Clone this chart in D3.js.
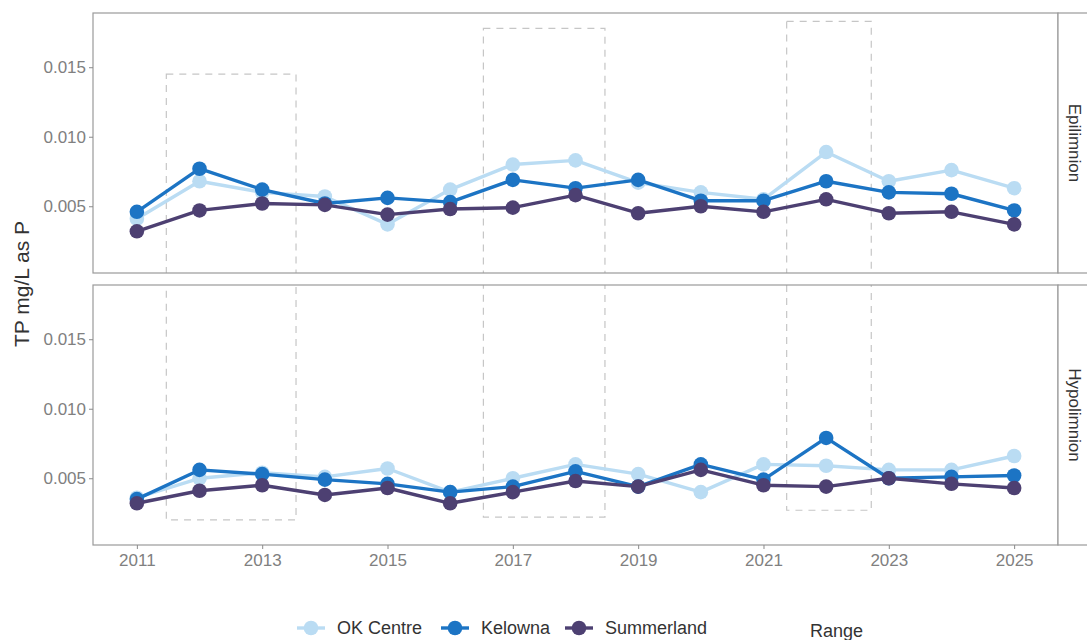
<!DOCTYPE html>
<html lang="en">
<head>
<meta charset="UTF-8">
<title>TP mg/L as P</title>
<script src="https://d3js.org/d3.v7.min.js"></script>
<style>
    body { margin: 0; background: #fff; }
    text { font-family: "Liberation Sans", Arial, sans-serif; }
</style>
</head>
<body>
<div id="chart"></div>
<script>
    // data
    const years = [2011, 2012, 2013, 2014, 2015, 2016, 2017, 2018, 2019, 2020, 2021, 2022, 2023, 2024, 2025];
    const sites = ["OK Centre", "Kelowna", "Summerland"];
    const layers = ["Epilimnion", "Hypolimnion"];

    const okCentreEpi    = [0.0041, 0.0068, 0.0060, 0.0057, 0.0037, 0.0062, 0.0080, 0.0083, 0.0067, 0.0060, 0.0055, 0.0089, 0.0068, 0.0076, 0.0063];
    const kelownaEpi     = [0.0046, 0.0077, 0.0062, 0.0052, 0.0056, 0.0053, 0.0069, 0.0063, 0.0069, 0.0054, 0.0054, 0.0068, 0.0060, 0.0059, 0.0047];
    const summerlandEpi  = [0.0032, 0.0047, 0.0052, 0.0051, 0.0044, 0.0048, 0.0049, 0.0058, 0.0045, 0.0050, 0.0046, 0.0055, 0.0045, 0.0046, 0.0037];

    const okCentreHypo   = [0.0036, 0.0050, 0.0054, 0.0051, 0.0057, 0.0040, 0.0050, 0.0060, 0.0053, 0.0040, 0.0060, 0.0059, 0.0056, 0.0056, 0.0066];
    const kelownaHypo    = [0.0035, 0.0056, 0.0053, 0.0049, 0.0046, 0.0040, 0.0044, 0.0055, 0.0044, 0.0060, 0.0049, 0.0079, 0.0050, 0.0051, 0.0052];
    const summerlandHypo = [0.0032, 0.0041, 0.0045, 0.0038, 0.0043, 0.0032, 0.0040, 0.0048, 0.0044, 0.0056, 0.0045, 0.0044, 0.0050, 0.0046, 0.0043];

    // dashed "Range" boxes
    const rangeStart      = [2011.47, 2016.53, 2021.37];
    const rangeEnd        = [2013.54, 2018.47, 2022.72];
    const rangeTopEpi     = [0.0145, 0.0178, 0.0183];
    const rangeBottomHypo = [0.0020, 0.0022, 0.0027];

    const xTicks = [2011, 2013, 2015, 2017, 2019, 2021, 2023, 2025];
    const yTicks = [0.005, 0.010, 0.015];

    const colors = { "OK Centre": "#badcf3", "Kelowna": "#1c74c4", "Summerland": "#4d4072" };

    const panelData = {
        "Epilimnion":  { "OK Centre": okCentreEpi,  "Kelowna": kelownaEpi,  "Summerland": summerlandEpi },
        "Hypolimnion": { "OK Centre": okCentreHypo, "Kelowna": kelownaHypo, "Summerland": summerlandHypo }
    };

    const width = 1087, height = 640;
    const plotLeft = 93, plotRight = 1058, panelH = 260, gap = 12, plotTop = 13;
    const stripW = 34;

    const svg = d3.select("#chart").append("svg")
        .attr("width", width)
        .attr("height", height);

    const x = d3.scaleLinear().domain([2010.3, 2025.7]).range([plotLeft, plotRight]);
    const y = d3.scaleLinear().domain([0.0002, 0.0189]).range([panelH, 0]);

    const line = d3.line()
        .x((d, i) => x(years[i]))
        .y(d => y(d));

    layers.forEach((layer, li) => {
        const py = plotTop + li * (panelH + gap);
        const g = svg.append("g").attr("transform", `translate(0,${py})`);

        g.append("clipPath").attr("id", "clip" + li)
            .append("rect")
            .attr("x", plotLeft).attr("y", 0)
            .attr("width", plotRight - plotLeft).attr("height", panelH);

        // range boxes, clipped to the panel
        const rg = g.append("g").attr("clip-path", `url(#clip${li})`);
        rangeStart.forEach((s, i) => {
            const hi = li === 0 ? rangeTopEpi[i] : 0.03;
            const lo = li === 0 ? -0.01 : rangeBottomHypo[i];
            rg.append("rect")
                .attr("x", x(s))
                .attr("y", y(hi))
                .attr("width", x(rangeEnd[i]) - x(s))
                .attr("height", y(lo) - y(hi))
                .attr("fill", "none")
                .attr("stroke", "#c6c6c6")
                .attr("stroke-width", 1.2)
                .attr("stroke-dasharray", "7,6");
        });

        // series
        sites.forEach(site => {
            const vals = panelData[layer][site];
            g.append("path")
                .datum(vals)
                .attr("d", line)
                .attr("fill", "none")
                .attr("stroke", colors[site])
                .attr("stroke-width", 3.4)
                .attr("stroke-linejoin", "round");
            g.selectAll(null)
                .data(vals)
                .enter().append("circle")
                .attr("cx", (d, i) => x(years[i]))
                .attr("cy", d => y(d))
                .attr("r", 7.3)
                .attr("fill", colors[site]);
        });

        // panel border
        g.append("rect")
            .attr("x", plotLeft).attr("y", 0)
            .attr("width", plotRight - plotLeft).attr("height", panelH)
            .attr("fill", "none")
            .attr("stroke", "#9a9a9a")
            .attr("stroke-width", 1.2);

        // strip on the right
        g.append("rect")
            .attr("x", plotRight).attr("y", 0)
            .attr("width", stripW).attr("height", panelH)
            .attr("fill", "#fff")
            .attr("stroke", "#9a9a9a")
            .attr("stroke-width", 1.2);
        g.append("text")
            .attr("transform", `translate(${plotRight + 17},${panelH / 2}) rotate(90)`)
            .attr("text-anchor", "middle")
            .attr("dy", "0.35em")
            .attr("font-size", 17)
            .attr("fill", "#333")
            .text(layer);

        // y axis
        const yAxis = g.append("g")
            .attr("transform", `translate(${plotLeft},0)`)
            .call(d3.axisLeft(y).tickValues(yTicks).tickFormat(d3.format(".3f")).tickSize(4).tickPadding(3));
        yAxis.select(".domain").remove();
        yAxis.selectAll("line").attr("stroke", "#8a8a8a");
        yAxis.selectAll("text").attr("font-size", 17).attr("fill", "#808080")
            .style("font-family", "'Liberation Sans', Arial, sans-serif");

        if (li === 1) {
            const xAxis = g.append("g")
                .attr("transform", `translate(0,${panelH})`)
                .call(d3.axisBottom(x).tickValues(xTicks).tickFormat(d3.format("d")).tickSize(4).tickPadding(5));
            xAxis.select(".domain").remove();
            xAxis.selectAll("line").attr("stroke", "#8a8a8a");
            xAxis.selectAll("text").attr("font-size", 17).attr("fill", "#808080")
                .style("font-family", "'Liberation Sans', Arial, sans-serif");
        }
    });

    // y axis title
    svg.append("text")
        .attr("transform", `translate(29,${plotTop + panelH + gap / 2 + 5}) rotate(-90)`)
        .attr("text-anchor", "middle")
        .attr("font-size", 21)
        .attr("fill", "#333")
        .text("TP  mg/L as P");

    // legend
    const legendY = 628;
    const legendItems = [
        { site: "OK Centre", x: 297 },
        { site: "Kelowna", x: 441 },
        { site: "Summerland", x: 565 }
    ];
    const lg = svg.append("g");
    legendItems.forEach(it => {
        lg.append("line")
            .attr("x1", it.x).attr("x2", it.x + 28)
            .attr("y1", legendY).attr("y2", legendY)
            .attr("stroke", colors[it.site]).attr("stroke-width", 3.4);
        lg.append("circle")
            .attr("cx", it.x + 14).attr("cy", legendY).attr("r", 7.3)
            .attr("fill", colors[it.site]);
        lg.append("text")
            .attr("x", it.x + 40).attr("y", legendY)
            .attr("dy", "0.35em")
            .attr("font-size", 18)
            .attr("fill", "#333")
            .text(it.site);
    });
    lg.append("text")
        .attr("x", 810).attr("y", legendY + 3)
        .attr("dy", "0.35em")
        .attr("font-size", 18)
        .attr("fill", "#333")
        .text("Range");
</script>
</body>
</html>
